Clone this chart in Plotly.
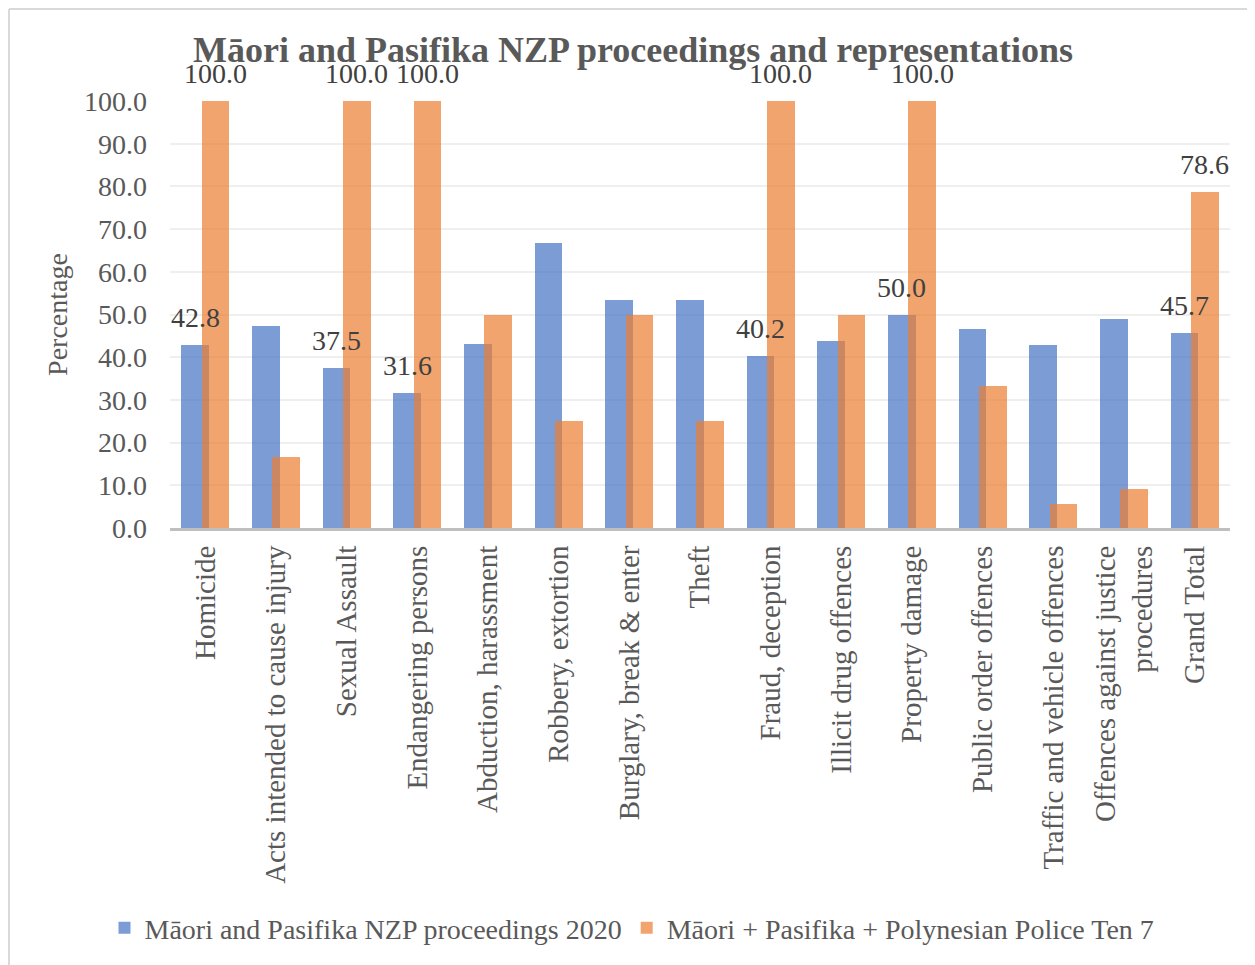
import plotly.graph_objects as go

categories = [
    "Homicide", "Acts intended to cause injury", "Sexual Assault", "Endangering persons",
    "Abduction, harassment", "Robbery, extortion", "Burglary, break & enter", "Theft",
    "Fraud, deception", "Illicit drug offences", "Property damage", "Public order offences",
    "Traffic and vehicle offences", "Offences against justice<br>procedures", "Grand Total",
]
nzp_2020 = [42.8, 47.3, 37.5, 31.6, 43.0, 66.7, 53.4, 53.3, 40.2, 43.8, 50.0, 46.5, 42.9, 48.9, 45.7]
police_ten7 = [100.0, 16.7, 100.0, 100.0, 50.0, 25.0, 50.0, 25.0, 100.0, 50.0, 100.0, 33.3, 5.7, 9.1, 78.6]
labelled = ["Homicide", "Sexual Assault", "Endangering persons", "Fraud, deception",
            "Property damage", "Grand Total"]
y_ticks = [0, 10, 20, 30, 40, 50, 60, 70, 80, 90, 100]

FONT = "Liberation Serif, Times New Roman, serif"
TXT = "#404040"
TICK = "#595959"
FS = 28

# figure is placed at an 8px page offset (body margin)
W, H = 1247, 957
L, T, R, B = 162, 93, 25, 437
PW, PH = W - L - R, H - T - B
CAT_PX = PW / len(categories)

BAR_W = 0.39
OFF_BLUE, OFF_ORANGE = -0.34, -0.05

fig = go.Figure()
fig.add_trace(go.Bar(
    x=categories, y=nzp_2020, name="Māori and Pasifika NZP proceedings 2020",
    marker=dict(color="rgba(68,114,196,0.70)", line=dict(width=0)),
    width=BAR_W, offset=OFF_BLUE,
))
fig.add_trace(go.Bar(
    x=categories, y=police_ten7, name="Māori + Pasifika + Polynesian Police Ten 7",
    marker=dict(color="rgba(237,125,49,0.70)", line=dict(width=0)),
    width=BAR_W, offset=OFF_ORANGE,
))

# data labels drawn on top of both series
for series, off in ((nzp_2020, OFF_BLUE), (police_ten7, OFF_ORANGE)):
    for c, v in zip(categories, series):
        if c in labelled:
            fig.add_annotation(
                x=c, y=v, xref="x", yref="y", text=f"{v:.1f}", showarrow=False,
                xanchor="center", yanchor="bottom",
                xshift=(off + BAR_W / 2) * CAT_PX, yshift=10,
                font=dict(family=FONT, size=FS, color=TXT),
            )

fig.update_layout(
    width=W, height=H,
    barmode="overlay",
    paper_bgcolor="white", plot_bgcolor="white",
    font=dict(family=FONT, size=FS, color=TICK),
    margin=dict(l=L, r=R, t=T, b=B),
    title=dict(
        text="<b>Māori and Pasifika NZP proceedings and representations</b>",
        x=(633 - 8) / W, xanchor="center", y=1 - (49 - 8) / H, yanchor="middle", yref="container",
        font=dict(family=FONT, size=36, color=TICK),
    ),
    xaxis=dict(
        tickangle=-90, showgrid=False, ticks="",
        showline=True, linecolor="#BFBFBF", linewidth=3,
        tickfont=dict(family=FONT, size=29, color=TICK),
        ticklabelstandoff=3,
        range=[-0.5, 14.5],
    ),
    yaxis=dict(
        range=[0, 100], tickvals=y_ticks, tickformat=".1f",
        showgrid=True, gridcolor="#EFEFEF", gridwidth=1.5,
        zeroline=False, ticks="",
        tickfont=dict(family=FONT, size=FS, color=TICK),
        ticklabelstandoff=22,
        title=dict(text="Percentage", font=dict(family=FONT, size=FS, color=TICK), standoff=8),
    ),
    legend=dict(
        orientation="h", x=(632 - 170) / PW, xanchor="center",
        y=-(928 - 528) / PH, yanchor="middle",
        font=dict(family=FONT, size=FS, color=TICK),
        itemwidth=30, tracegroupgap=0,
    ),
    bargap=0,
)

# chart area border (extends beyond right and bottom edges)
bx = (1 - L) / PW
by = (PH + T - 1) / PH
fig.add_shape(type="line", xref="paper", yref="paper",
              x0=bx, x1=1.2, y0=by, y1=by,
              line=dict(color="#D9D9D9", width=2))
fig.add_shape(type="line", xref="paper", yref="paper",
              x0=bx, x1=bx, y0=by, y1=-1.2,
              line=dict(color="#D9D9D9", width=2))

fig.write_html("out.html")
